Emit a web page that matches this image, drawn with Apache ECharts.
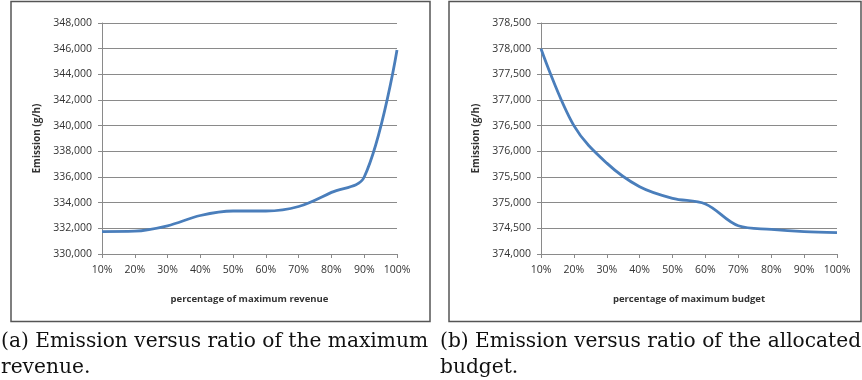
<!DOCTYPE html>
<html>
<head>
    <meta charset="utf-8">
    <title>Emission charts</title>
    <script src="https://cdn.jsdelivr.net/npm/echarts@6/dist/echarts.min.js"></script>
    <style>
        html, body { margin: 0; padding: 0; background: #fff; }
    </style>
</head>
<body>
    <div id="main" style="width:862px;height:380px;"></div>
    <script type="text/javascript">
        // x categories, shared by both panels
        var percents = ["10%", "20%", "30%", "40%", "50%", "60%", "70%", "80%", "90%", "100%"];
        // (a) emission vs. share of maximum revenue
        var revenueEmission = [331750, 331780, 332200, 333000, 333350, 333350, 333700, 334800, 336000, 345900];
        // (b) emission vs. share of allocated budget
        var budgetEmission = [378000, 376500, 375770, 375310, 375085, 374975, 374550, 374480, 374435, 374415];

        var tickFont = "Open Sans";
        var lineColor = "#4a7ebb";
        var gridColor = "#8a8a8a";

        function xAxisOf(gridIndex, title) {
            return {
                type: "category",
                gridIndex: gridIndex,
                data: percents,
                boundaryGap: false,
                name: title,
                nameLocation: "middle",
                nameGap: 40,
                nameTextStyle: { fontFamily: tickFont, fontWeight: "bold", fontSize: 9.5, color: "#333" },
                axisLine: { lineStyle: { color: gridColor, width: 1 } },
                axisTick: { show: true, length: 4, interval: 0, lineStyle: { color: gridColor } },
                axisLabel: { fontFamily: tickFont, fontSize: 10.5, color: "#333", margin: 11, interval: 0 },
                splitLine: { show: false }
            };
        }

        function yAxisOf(gridIndex, min, max, step) {
            return {
                type: "value",
                gridIndex: gridIndex,
                min: min,
                max: max,
                interval: step,
                name: "Emission (g/h)",
                nameLocation: "middle",
                nameGap: 60,
                nameRotate: 90,
                nameTextStyle: { fontFamily: tickFont, fontWeight: "bold", fontSize: 10, color: "#333" },
                axisLine: { show: true, lineStyle: { color: gridColor, width: 1 } },
                axisTick: { show: true, length: 4, lineStyle: { color: gridColor } },
                axisLabel: {
                    fontFamily: tickFont, fontSize: 10.5, color: "#333", margin: 10,
                    formatter: function (v) { return v.toLocaleString("en-US"); }
                },
                splitLine: { show: true, lineStyle: { color: gridColor, width: 1 } }
            };
        }

        var myChart = echarts.init(document.getElementById("main"));
        var option = {
            animation: false,
            backgroundColor: "#fff",
            grid: [
                { left: 102, right: 465, top: 23, bottom: 126 },
                { left: 541, right: 25, top: 23, bottom: 126 }
            ],
            xAxis: [
                xAxisOf(0, "percentage of maximum revenue"),
                xAxisOf(1, "percentage of maximum budget")
            ],
            yAxis: [
                yAxisOf(0, 330000, 348000, 2000),
                yAxisOf(1, 374000, 378500, 500)
            ],
            series: [
                {
                    type: "line", xAxisIndex: 0, yAxisIndex: 0,
                    data: revenueEmission, smooth: 0.35, showSymbol: false,
                    lineStyle: { color: lineColor, width: 2.8 }
                },
                {
                    type: "line", xAxisIndex: 1, yAxisIndex: 1,
                    data: budgetEmission, smooth: 0.35, showSymbol: false,
                    lineStyle: { color: lineColor, width: 2.8 }
                }
            ],
            graphic: [
                { type: "rect", shape: { x: 11, y: 1.5, width: 419, height: 320 },
                  style: { fill: null, stroke: "#555", lineWidth: 1.5 }, z: -1 },
                { type: "rect", shape: { x: 449, y: 1.5, width: 412, height: 320 },
                  style: { fill: null, stroke: "#555", lineWidth: 1.5 }, z: -1 },
                { type: "text", left: 1, top: 329,
                  style: { text: "(a) Emission versus ratio of the maximum\nrevenue.", font: "20.2px 'DejaVu Serif'", fill: "#111", lineHeight: 26 } },
                { type: "text", left: 440, top: 329,
                  style: { text: "(b) Emission versus ratio of the allocated\nbudget.", font: "20.2px 'DejaVu Serif'", fill: "#111", lineHeight: 26 } }
            ]
        };
        myChart.setOption(option);
    </script>
</body>
</html>
